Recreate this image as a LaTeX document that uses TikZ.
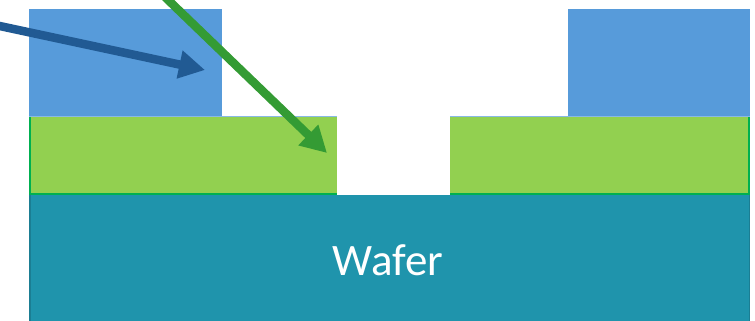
\documentclass[tikz,border=0pt]{standalone}
\usepackage{fontspec}
\setmainfont{Carlito}
\usetikzlibrary{arrows.meta}
\definecolor{resist}{HTML}{579BDA}
\definecolor{film}{HTML}{92D050}
\definecolor{filmedge}{HTML}{00B050}
\definecolor{wafer}{HTML}{1F94AC}
\definecolor{waferedge}{HTML}{1B7E93}
\definecolor{arrblue}{HTML}{215A93}
\definecolor{arrgreen}{HTML}{349B34}
\tikzset{
  layer/.style={draw=none, minimum width=0pt, minimum height=0pt, inner sep=0pt, outer sep=0pt},
  beam/.style={line width=8.5pt, -{Triangle[length=26pt,width=27pt]}, shorten >=0pt},
}
\begin{document}
\begin{tikzpicture}[x=1pt,y=-1pt]
\useasboundingbox (0,0) rectangle (755,321);
% wafer
\fill[wafer] (29,195) rectangle (750,321);
\node[layer, text=white, font=\fontsize{45}{50}\selectfont] (waf) at (388,260) {Wafer};
\draw[waferedge, line width=1.5pt] (29.75,195) -- (29.75,321);
\draw[waferedge, line width=1.5pt] (749.25,195) -- (749.25,321);
% film layer
\fill[film] (29,116) rectangle (337,195);
\fill[film] (450,116) rectangle (750,195);
\draw[filmedge, line width=2pt] (30,116) -- (30,194) -- (337,194);
\draw[filmedge, line width=2pt] (450,194) -- (749,194) -- (749,116);
\draw[resist!70!white, line width=0.6pt] (29,116.3) -- (337,116.3) (450,116.3) -- (750,116.3);
% resist
\fill[resist] (29,9) rectangle (222,116);
\fill[resist] (568,9) rectangle (750,116);
% arrows
\coordinate (b0) at (-5,25);
\coordinate (b1) at (205,70);
\coordinate (g0) at (165,-3);
\coordinate (g1) at (327,153);
\draw[beam, arrblue] (b0) -- (b1);
\draw[beam, arrgreen] (g0) -- (g1);
\end{tikzpicture}
\end{document}
